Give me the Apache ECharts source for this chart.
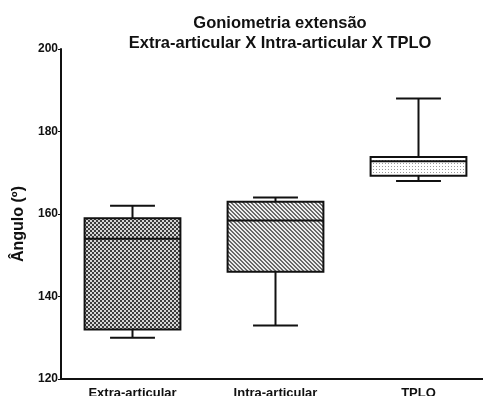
<!DOCTYPE html>
<html>
<head>
<meta charset="utf-8">
<script src="https://cdn.jsdelivr.net/npm/echarts@6/dist/echarts.min.js"></script>
<style>
  html, body { margin: 0; padding: 0; background: #fff; }
  #chart { width: 483px; height: 396px; }
</style>
</head>
<body>
<div id="chart"></div>
<script>
// data: [min, q1, median, q3, max]
var categories = ['Extra-articular', 'Intra-articular', 'TPLO'];
var extraArticular = [130, 132, 154, 159, 162];
var intraArticular = [133, 146, 158.4, 163, 164];
var tplo = [168, 169.3, 172.8, 173.8, 188];
var yTicks = { min: 120, max: 200, interval: 20 };

/** small canvas tiles used as fill patterns */
function makePattern(pSize, pDraw) {
	var c = document.createElement('canvas');
	c.width = pSize; c.height = pSize;
	var ctx = c.getContext('2d');
	pDraw(ctx, pSize);
	return { image: c, repeat: 'repeat' };
}

var checkerFill = makePattern(4, function (ctx) {
	ctx.fillStyle = '#d6d6d6'; ctx.fillRect(0, 0, 4, 4);
	ctx.fillStyle = '#3c3c3c';
	ctx.fillRect(0, 0, 2, 2); ctx.fillRect(2, 2, 2, 2);
});

var stripeFill = makePattern(4, function (ctx) {
	ctx.fillStyle = '#eeeeee'; ctx.fillRect(0, 0, 4, 4);
	ctx.fillStyle = '#6a6a6a';
	for (var i = 0; i < 4; i++) {
		ctx.fillRect(i, i, 1, 1);
		ctx.fillRect((i + 1) % 4, i, 1, 1);
	}
});

var dotFill = makePattern(3, function (ctx) {
	ctx.fillStyle = '#ffffff'; ctx.fillRect(0, 0, 3, 3);
	ctx.fillStyle = '#9a9a9a';
	ctx.fillRect(1, 1, 1, 1);
});

var fills = [checkerFill, stripeFill, dotFill];
var boxData = [extraArticular, intraArticular, tplo].map(function (v, i) {
	return [i].concat(v);
});

function renderBox(params, api) {
	var idx = api.value(0);
	var band = api.size([1, 0])[0];
	var half = band * 0.335;
	var capHalf = band * 0.157;
	var x = api.coord([idx, 0])[0];
	var yMin = api.coord([idx, api.value(1)])[1];
	var yQ1 = api.coord([idx, api.value(2)])[1];
	var yMed = api.coord([idx, api.value(3)])[1];
	var yQ3 = api.coord([idx, api.value(4)])[1];
	var yMax = api.coord([idx, api.value(5)])[1];
	var lineStyle = { stroke: '#111', lineWidth: 2, fill: null };
	var children = [
		{ type: 'line', shape: { x1: x, y1: yQ3, x2: x, y2: yMax }, style: lineStyle },
		{ type: 'line', shape: { x1: x, y1: yQ1, x2: x, y2: yMin }, style: lineStyle },
		{ type: 'line', shape: { x1: x - capHalf, y1: yMax, x2: x + capHalf, y2: yMax }, style: lineStyle },
		{ type: 'line', shape: { x1: x - capHalf, y1: yMin, x2: x + capHalf, y2: yMin }, style: lineStyle },
		{ type: 'rect', shape: { x: x - half, y: yQ3, width: half * 2, height: yQ1 - yQ3 },
			style: { fill: fills[idx], stroke: '#111', lineWidth: 2 } },
		{ type: 'line', shape: { x1: x - half, y1: yMed, x2: x + half, y2: yMed }, style: lineStyle }
	];
	return { type: 'group', children: children };
}

var chart = echarts.init(document.getElementById('chart'));
var boldFont = 'Liberation Sans, Arial, sans-serif';
chart.setOption({
	animation: false,
	title: {
		text: 'Goniometria extensão\nExtra-articular X Intra-articular X TPLO',
		left: 275, top: 8, textAlign: 'center',
		textStyle: { fontFamily: boldFont, fontWeight: 'bold', fontSize: 16.5, lineHeight: 20, color: '#111' }
	},
	grid: { left: 61, right: -7, top: 49, bottom: 17, containLabel: false, outerBoundsMode: 'none' },
	xAxis: {
		type: 'category',
		data: categories,
		axisLine: { lineStyle: { color: '#111', width: 2 } },
		axisTick: { show: false },
		axisLabel: { fontFamily: boldFont, fontWeight: 'bold', fontSize: 13, color: '#111', margin: 8 }
	},
	yAxis: {
		type: 'value',
		min: yTicks.min, max: yTicks.max, interval: yTicks.interval,
		name: 'Ângulo (º)',
		nameLocation: 'middle',
		nameGap: 30,
		nameTextStyle: { fontFamily: boldFont, fontWeight: 'bold', fontSize: 16, color: '#111', padding: [0, 20, 0, 0] },
		axisLine: { show: true, lineStyle: { color: '#111', width: 2 } },
		axisTick: { show: true, length: 3, lineStyle: { color: '#111', width: 1 } },
		axisLabel: { fontFamily: boldFont, fontWeight: 'bold', fontSize: 12, color: '#111', margin: 3 },
		splitLine: { show: false }
	},
	series: [{
		type: 'custom',
		renderItem: renderBox,
		data: boxData,
		encode: { x: 0, y: [1, 2, 3, 4, 5] }
	}]
});
</script>
</body>
</html>
